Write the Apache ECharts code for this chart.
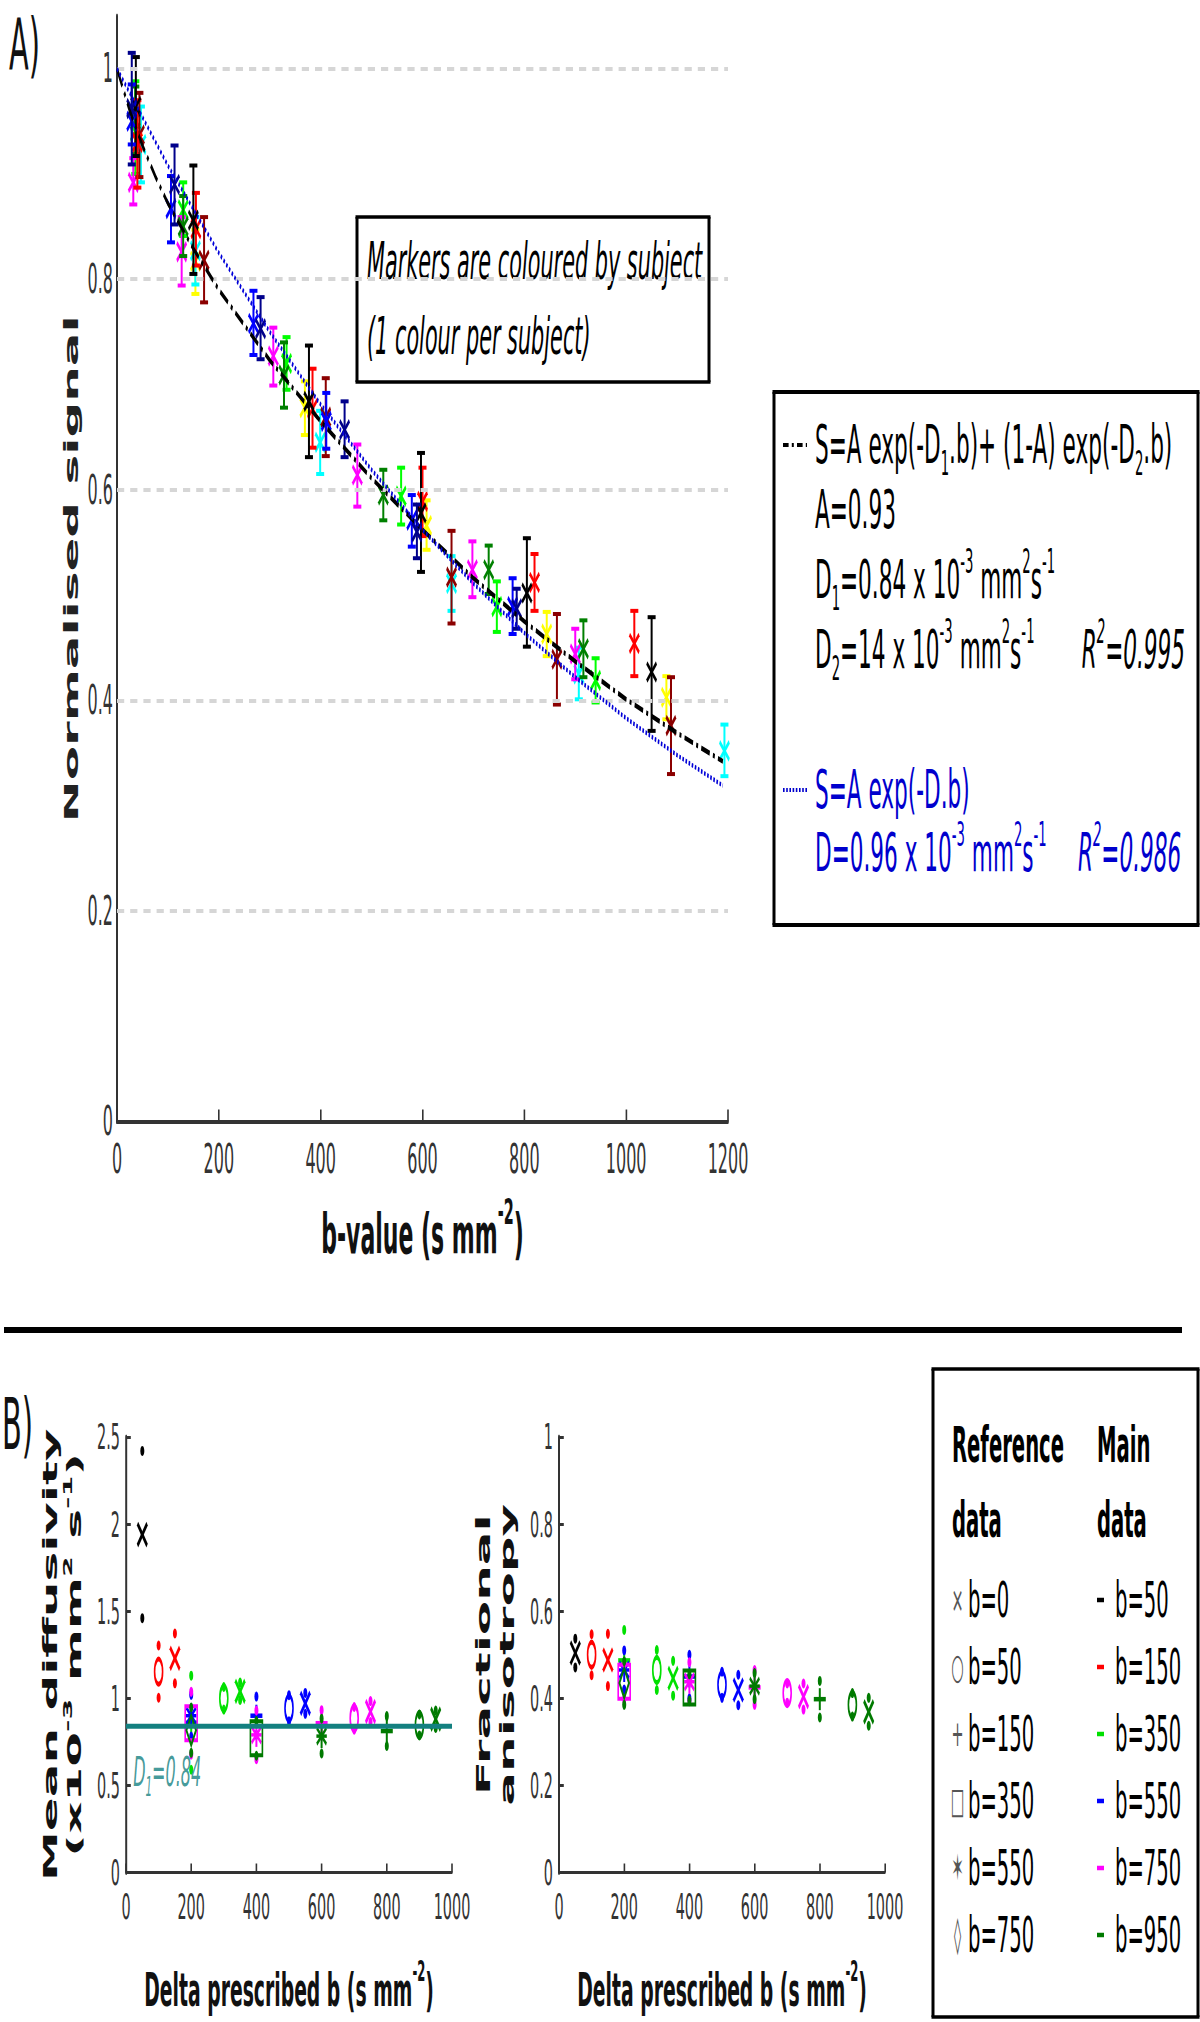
<!DOCTYPE html>
<html>
<head>
<meta charset="utf-8">
<script src="https://cdn.jsdelivr.net/npm/echarts@6/dist/echarts.min.js"></script>
<style>
html,body{margin:0;padding:0;background:#fff;}
#wrap{width:1200px;height:2022px;overflow:hidden;position:relative;background:#fff;}
#chart{width:3000px;height:2022px;transform:scaleX(0.4);transform-origin:0 0;}
</style>
</head>
<body>
<div id="wrap"><div id="chart"></div></div>
<script>
// ================= DATA =================
// Panel A tick values
const xTicksA = [0, 200, 400, 600, 800, 1000, 1200];
const yTicksA = [0, 0.2, 0.4, 0.6, 0.8, 1];
const gridLinesA = [0.2, 0.4, 0.6, 0.8, 1];

// Panel A: one array per subject. Row = [b-value, mean normalised signal, lower end, upper end]
const subjNavy    = [[29,0.962,0.909,1.015],[113,0.890,0.852,0.927],[282,0.753,0.724,0.783],[447,0.657,0.631,0.684],[589,0.560,0.535,0.586],[785,0.487,0.468,0.506]];
const subjBlue    = [[29,0.950,0.928,0.985],[106,0.867,0.835,0.898],[268,0.758,0.728,0.789],[411,0.665,0.639,0.692],[579,0.571,0.546,0.595],[777,0.489,0.463,0.516]];
const subjBlack   = [[37,0.964,0.917,1.011],[150,0.856,0.805,0.908],[377,0.684,0.631,0.737],[597,0.578,0.522,0.635],[805,0.502,0.451,0.554],[1050,0.427,0.371,0.479]];
const subjRed     = [[40,0.930,0.887,0.970],[155,0.848,0.813,0.882],[384,0.677,0.640,0.715],[600,0.589,0.556,0.621],[820,0.512,0.485,0.539],[1016,0.454,0.423,0.485]];
const subjDarkRed = [[44,0.937,0.897,0.977],[171,0.818,0.778,0.859],[410,0.669,0.632,0.706],[657,0.517,0.473,0.561],[864,0.439,0.396,0.482],[1088,0.376,0.330,0.422]];
const subjGreen   = [[36,0.951,0.919,0.983],[130,0.850,0.822,0.879],[328,0.709,0.678,0.740],[523,0.595,0.571,0.619],[730,0.524,0.501,0.547],[916,0.449,0.422,0.476]];
const subjLime    = [[36,0.940,0.900,0.988],[130,0.866,0.841,0.892],[333,0.720,0.695,0.745],[558,0.594,0.567,0.621],[746,0.489,0.465,0.513],[940,0.419,0.398,0.440]];
const subjMagenta = [[32,0.892,0.871,0.915],[127,0.826,0.794,0.859],[307,0.727,0.699,0.754],[472,0.614,0.584,0.643],[698,0.524,0.498,0.551],[900,0.444,0.420,0.468]];
const subjCyan    = [[47,0.928,0.892,0.964],[154,0.827,0.795,0.859],[399,0.645,0.615,0.675],[657,0.511,0.485,0.537],[907,0.425,0.401,0.450],[1193,0.352,0.328,0.377]];
const subjYellow  = [[40,0.930,0.900,0.960],[154,0.817,0.786,0.847],[369,0.678,0.652,0.703],[608,0.566,0.543,0.590],[844,0.463,0.442,0.484],[1079,0.403,0.382,0.423]];

// Panel A fitted curves
const fitBiB   = [0, 25, 50, 75, 100, 150, 200, 300, 400, 500, 600, 700, 800, 900, 1000, 1100, 1190];
const fitBiS   = [1.000, 0.960, 0.927, 0.898, 0.872, 0.829, 0.790, 0.723, 0.665, 0.611, 0.562, 0.516, 0.475, 0.437, 0.401, 0.369, 0.342];
const fitMonoB = [0, 100, 200, 300, 400, 500, 600, 700, 800, 900, 1000, 1100, 1190];
const fitMonoS = [1.000, 0.908, 0.825, 0.750, 0.681, 0.619, 0.562, 0.511, 0.464, 0.422, 0.383, 0.348, 0.319];

// Panel B tick values
const xTicksB = [0, 200, 400, 600, 800, 1000];
const yTicksMD = [0, 0.5, 1, 1.5, 2, 2.5];
const yTicksFA = [0, 0.2, 0.4, 0.6, 0.8, 1];
const d1Value = 0.84;

// Panel B: main-data b-values; rows = [delta prescribed b, mean, sd]
const mainBValues = [50, 150, 350, 550, 750, 950];
const mdB50  = [[50,1.94,0.48]];
const mdB150 = [[100,1.153,0.15],[150,1.229,0.143]];
const mdB350 = [[200,0.86,0.27],[300,1.00,0.065],[350,1.04,0.05]];
const mdB550 = [[200,0.90,0.12],[400,0.90,0.11],[500,0.943,0.075],[550,0.971,0.06]];
const mdB750 = [[200,0.857,0.18],[400,0.79,0.14],[600,0.857,0.075],[700,0.885,0.065],[750,0.924,0.06]];
const mdB950 = [[200,0.817,0.13],[400,0.77,0.10],[600,0.783,0.10],[800,0.812,0.086],[900,0.847,0.06],[950,0.88,0.05]];

const faB50  = [[50,0.504,0.033]];
const faB150 = [[100,0.500,0.047],[150,0.488,0.06]];
const faB350 = [[200,0.487,0.07],[300,0.465,0.046],[350,0.446,0.04]];
const faB550 = [[200,0.465,0.045],[400,0.450,0.05],[500,0.431,0.03],[550,0.419,0.035]];
const faB750 = [[200,0.438,0.04],[400,0.438,0.045],[600,0.425,0.04],[700,0.412,0.022],[750,0.404,0.03]];
const faB950 = [[200,0.435,0.05],[400,0.425,0.03],[600,0.428,0.03],[800,0.398,0.042],[900,0.385,0.027],[950,0.369,0.032]];

// ================= STYLE / LAYOUT =================
const S = 0.4;                 // horizontal squeeze of the figure
const X = v => v / S;          // reference-pixel x -> canvas x
const F = "'DejaVu Sans', 'Noto Sans', sans-serif";
const AX = '#333';

const subjectsA = [
  [subjYellow,'#FFFF00'],[subjCyan,'#00FFFF'],[subjLime,'#00FF00'],[subjMagenta,'#FF00FF'],
  [subjGreen,'#008000'],[subjDarkRed,'#8B0000'],[subjRed,'#FF0000'],[subjBlack,'#000000'],
  [subjBlue,'#0000FF'],[subjNavy,'#00008B']
];
const groupsMD = [[mdB50,'#000000'],[mdB150,'#FF0000'],[mdB350,'#00E000'],[mdB550,'#0000FF'],[mdB750,'#FF00FF'],[mdB950,'#007A00']];
const groupsFA = [[faB50,'#000000'],[faB150,'#FF0000'],[faB350,'#00E000'],[faB550,'#0000FF'],[faB750,'#FF00FF'],[faB950,'#007A00']];
const refShape = {0:'x', 50:'o', 150:'+', 350:'star', 550:'square', 750:'diamond'};

function errRendererA(color){
  return function(params, api){
    const b = api.value(0), m = api.value(1), lo = api.value(2), hi = api.value(3);
    const c = api.coord([b, m]), t = api.coord([b, hi]), l = api.coord([b, lo]);
    const cw = 10, mw = 12, mh = 9;
    return {type:'group', children:[
      {type:'line', shape:{x1:c[0], y1:t[1], x2:c[0], y2:l[1]}, style:{stroke:color, lineWidth:5}},
      {type:'line', shape:{x1:c[0]-cw, y1:t[1], x2:c[0]+cw, y2:t[1]}, style:{stroke:color, lineWidth:4}},
      {type:'line', shape:{x1:c[0]-cw, y1:l[1], x2:c[0]+cw, y2:l[1]}, style:{stroke:color, lineWidth:4}},
      {type:'line', shape:{x1:c[0]-mw, y1:c[1]-mh, x2:c[0]+mw, y2:c[1]+mh}, style:{stroke:color, lineWidth:4.5}},
      {type:'line', shape:{x1:c[0]-mw, y1:c[1]+mh, x2:c[0]+mw, y2:c[1]-mh}, style:{stroke:color, lineWidth:4.5}}
    ]};
  };
}

function markerB(shape, c, color){
  const st = {stroke:color, lineWidth:5, fill:'none'};
  const L = (x1,y1,x2,y2,w) => ({type:'line', shape:{x1:c[0]+x1, y1:c[1]+y1, x2:c[0]+x2, y2:c[1]+y2}, style:{stroke:color, lineWidth:w||5}});
  switch(shape){
    case 'x': return [L(-12,-11,12,11), L(-12,11,12,-11)];
    case 'o': return [{type:'circle', x:c[0], y:c[1], scaleX:0.8, shape:{cx:0, cy:0, r:12.5}, style:st}];
    case '+': return [L(-15,0,15,0,4.5), L(0,-11,0,11)];
    case 'square': return [{type:'rect', shape:{x:c[0]-15, y:c[1]-17, width:30, height:34}, style:{stroke:color, lineWidth:4, fill:'none'}}];
    case 'star': return [L(0,-12,0,12), L(-12,-8,12,8,4), L(-12,8,12,-8,4), L(-13,0,13,0,3.5)];
    case 'diamond': return [{type:'polygon', shape:{points:[[c[0],c[1]-15],[c[0]+12,c[1]],[c[0],c[1]+15],[c[0]-12,c[1]]]}, style:{stroke:color, lineWidth:4, fill:'none'}}];
  }
  return [];
}

function rendererB(color, mainB){
  return function(params, api){
    const d = api.value(0), m = api.value(1), sd = api.value(2);
    const c = api.coord([d, m]), t = api.coord([d, m + sd]), l = api.coord([d, m - sd]);
    const ch = [
      {type:'circle', shape:{cx:t[0], cy:t[1], r:5}, style:{fill:color}},
      {type:'circle', shape:{cx:l[0], cy:l[1], r:5}, style:{fill:color}}
    ].concat(markerB(refShape[mainB - d], c, color));
    return {type:'group', children:ch};
  };
}

// ---- graphic helpers ----
function box(x1, y1, x2, y2, hw, vw){
  const s = (w) => ({stroke:'#000', lineWidth:w});
  return [
    {type:'line', silent:true, shape:{x1:x1-vw/2, y1:y1, x2:x2+vw/2, y2:y1}, style:s(hw)},
    {type:'line', silent:true, shape:{x1:x1-vw/2, y1:y2, x2:x2+vw/2, y2:y2}, style:s(hw)},
    {type:'line', silent:true, shape:{x1:x1, y1:y1, x2:x1, y2:y2}, style:s(vw)},
    {type:'line', silent:true, shape:{x1:x2, y1:y1, x2:x2, y2:y2}, style:s(vw)}
  ];
}
function richSet(color, size, gap){
  const sm = Math.round(size * 0.62);
  return {
    n:{fontSize:size, fontFamily:F, fill:color, lineHeight:70},
    sb:{fontSize:sm, fontFamily:F, fill:color, lineHeight:46, verticalAlign:'bottom'},
    sp:{fontSize:sm, fontFamily:F, fill:color, lineHeight:30, verticalAlign:'top'},
    i:{fontSize:size, fontFamily:F, fontStyle:'italic', fill:color, lineHeight:70},
    si:{fontSize:sm, fontFamily:F, fontStyle:'italic', fill:color, lineHeight:30, verticalAlign:'top'},
    g:{fontSize:size, fontFamily:F, fill:color, lineHeight:70, width:gap}
  };
}
function gtext(x, y, text, opts){
  const o = opts || {};
  return {type:'text', silent:true, x:x, y:y, style:Object.assign({
    text:text, fontFamily:F, fontSize:o.fontSize||40, fill:o.fill||'#000',
    align:o.align||'left', textAlign:o.align||'left', verticalAlign:'middle', textVerticalAlign:'middle'
  }, o.style||{})};
}

const blk = '#000', blu = '#0000CD';
const richK = richSet(blk, 54, 118), richB = richSet(blu, 54, 78);
const legRows = [1600, 1667, 1734, 1801, 1868, 1935];
const refLabels = ['b=0','b=50','b=150','b=350','b=550','b=750'];
const refSymbols = ['\u00D7','\u25CB','+','\u25A1','\u2736','\u25CA'];
const mainColors = ['#000000','#FF0000','#00E000','#0000FF','#FF00FF','#007A00'];

const graphics = [].concat(
  [gtext(X(9), 44, 'A)', {fontSize:72, fill:'#111'})],
  [gtext(X(2), 1424, 'B)', {fontSize:72, fill:'#111'})],
  // markers note box
  box(X(357), 217, X(709), 382, 3.5, 7.5),
  [gtext(X(367), 261, 'Markers are coloured by subject', {fontSize:52, style:{fontStyle:'italic'}}),
   gtext(X(367), 336, '(1 colour per subject)', {fontSize:52, style:{fontStyle:'italic'}})],
  // fit legend box
  box(X(774), 392, X(1198), 925, 4, 7.5),
  [
    {type:'line', silent:true, shape:{x1:X(783), y1:445, x2:X(807), y2:445}, style:{stroke:'#000', lineWidth:4, lineDash:[14,8,5,8]}},
    gtext(X(815), 445, '{n|S=A exp(-D}{sb|1}{n|.b)+ (1-A) exp(-D}{sb|2}{n|.b)}', {style:{rich:richK}}),
    gtext(X(815), 510, '{n|A=0.93}', {style:{rich:richK}}),
    gtext(X(815), 580, '{n|D}{sb|1}{n|=0.84 x 10}{sp|-3}{n| mm}{sp|2}{n|s}{sp|-1}', {style:{rich:richK}}),
    gtext(X(815), 650, '{n|D}{sb|2}{n|=14 x 10}{sp|-3}{n| mm}{sp|2}{n|s}{sp|-1}{g| }{i|R}{si|2}{i|=0.995}', {style:{rich:richK}}),
    {type:'line', silent:true, shape:{x1:X(783), y1:790, x2:X(808), y2:790}, style:{stroke:blu, lineWidth:4, lineDash:[4,4]}},
    gtext(X(815), 790, '{n|S=A exp(-D.b)}', {style:{rich:richB}}),
    gtext(X(815), 853, '{n|D=0.96 x 10}{sp|-3}{n| mm}{sp|2}{n|s}{sp|-1}{g| }{i|R}{si|2}{i|=0.986}', {style:{rich:richB}})
  ],
  // separator
  [{type:'line', silent:true, shape:{x1:X(4), y1:1330, x2:X(1182), y2:1330}, style:{stroke:'#000', lineWidth:6}}],
  // panel B legend
  box(X(933), 1369, X(1198), 2017, 3.5, 7.5),
  [
    gtext(X(952), 1445, 'Reference', {fontSize:49, style:{fontWeight:'bold'}}),
    gtext(X(952), 1520, 'data', {fontSize:49, style:{fontWeight:'bold'}}),
    gtext(X(1097), 1445, 'Main', {fontSize:49, style:{fontWeight:'bold'}}),
    gtext(X(1097), 1520, 'data', {fontSize:49, style:{fontWeight:'bold'}})
  ],
  legRows.map((y, i) => gtext(X(957.5), y, refSymbols[i], {fontSize:36, fill:'#555', align:'center'})),
  legRows.map((y, i) => gtext(X(968), y, refLabels[i], {fontSize:49})),
  legRows.map((y, i) => ({type:'line', silent:true, shape:{x1:X(1097), y1:y, x2:X(1104), y2:y}, style:{stroke:mainColors[i], lineWidth:4.5}})),
  legRows.map((y, i) => gtext(X(1115), y, 'b=' + mainBValues[i], {fontSize:49}))
);

// ---- axes ----
function valueAxis(extra){
  return Object.assign({type:'value', splitLine:{show:false}, axisLine:{show:true, onZero:false}}, extra);
}
const plain = v => String(Math.round(v * 10) / 10);
const richTitle = (size, sup, lh) => ({
  t:{fontSize:size, fontWeight:'bold', fontFamily:F, color:'#111', lineHeight:lh},
  n:{fontSize:size, fontWeight:'bold', fontFamily:F, color:'#111', lineHeight:lh},
  s:{fontSize:sup, fontWeight:'bold', fontFamily:F, color:'#111', lineHeight:sup, verticalAlign:'top'}
});

const xAxes = [
  valueAxis({gridIndex:0, min:0, max:1200, interval:200,
    axisLine:{show:true, onZero:false, lineStyle:{color:AX, width:4}},
    axisTick:{show:true, inside:true, length:12, lineStyle:{color:AX, width:4}},
    axisLabel:{fontSize:40, fontFamily:F, color:AX, margin:18, formatter:plain},
    name:'{n|b-value (s mm}{s|-2}{n|)}', nameLocation:'middle', nameGap:72,
    nameTextStyle:{rich:richTitle(55, 36, 80)}}),
  valueAxis({gridIndex:1, min:0, max:1000, interval:200,
    axisLine:{show:true, onZero:false, lineStyle:{color:AX, width:3}},
    axisTick:{show:true, inside:true, length:9, lineStyle:{color:AX, width:4}},
    axisLabel:{fontSize:36, fontFamily:F, color:AX, margin:16, formatter:plain},
    name:'{n|Delta prescribed b (s mm}{s|-2}{n|)}', nameLocation:'middle', nameGap:84,
    nameTextStyle:{rich:richTitle(47, 29, 66)}}),
  valueAxis({gridIndex:2, min:0, max:1000, interval:200,
    axisLine:{show:true, onZero:false, lineStyle:{color:AX, width:3}},
    axisTick:{show:true, inside:true, length:9, lineStyle:{color:AX, width:4}},
    axisLabel:{fontSize:36, fontFamily:F, color:AX, margin:16, formatter:plain},
    name:'{n|Delta prescribed b (s mm}{s|-2}{n|)}', nameLocation:'middle', nameGap:84,
    nameTextStyle:{rich:richTitle(47, 29, 66)}})
];
const yAxes = [
  valueAxis({gridIndex:0, min:0, max:1.05, interval:0.2,
    axisLine:{show:true, onZero:false, lineStyle:{color:AX, width:5}},
    axisTick:{show:true, inside:true, length:15, lineStyle:{color:AX, width:3}, customValues:yTicksA},
    axisLabel:{fontSize:40, fontFamily:F, color:AX, margin:10, customValues:yTicksA,
      formatter: v => (v > 1.01 ? '' : plain(v))},
    name:'Normalised signal', nameLocation:'middle', nameRotate:90, nameGap:78,
    nameTextStyle:{fontSize:50, fontWeight:'bold', fontFamily:F, color:'#222', lineHeight:60}}),
  valueAxis({gridIndex:1, min:0, max:2.5, interval:0.5,
    axisLine:{show:true, onZero:false, lineStyle:{color:AX, width:5}},
    axisTick:{show:true, inside:true, length:12, lineStyle:{color:AX, width:3}},
    axisLabel:{fontSize:36, fontFamily:F, color:AX, margin:15, formatter:plain},
    name:'{t|Mean diffusivity}\n{t|(x10}{s|-3}{t| mm}{s|2}{t| s}{s|-1}{t|)}', nameLocation:'middle', nameRotate:90, nameGap:100,
    nameTextStyle:{rich:richTitle(50, 30, 60)}}),
  valueAxis({gridIndex:2, min:0, max:1, interval:0.2,
    axisLine:{show:true, onZero:false, lineStyle:{color:AX, width:5}},
    axisTick:{show:true, inside:true, length:12, lineStyle:{color:AX, width:3}},
    axisLabel:{fontSize:36, fontFamily:F, color:AX, margin:15, formatter:plain},
    name:'{t|Fractional}\n{t|anisotropy}', nameLocation:'middle', nameRotate:90, nameGap:100,
    nameTextStyle:{rich:richTitle(50, 30, 60)}})
];

// ---- series ----
const series = [];
series.push({type:'line', xAxisIndex:0, yAxisIndex:0, data:[[-100,-100]], symbol:'none', silent:true, z:1,
  lineStyle:{opacity:0},
  markLine:{silent:true, animation:false, symbol:['none','none'], label:{show:false},
    lineStyle:{color:'#d6d6d6', width:4, type:[18,15]},
    emphasis:{disabled:true},
    data:gridLinesA.map(v => ({yAxis:v}))}});
subjectsA.forEach(([arr, col]) => {
  series.push({type:'custom', xAxisIndex:0, yAxisIndex:0, data:arr, z:3, silent:true,
    renderItem:errRendererA(col)});
});
series.push({type:'line', xAxisIndex:0, yAxisIndex:0, z:5, silent:true, symbol:'none',
  data:fitBiB.map((b, i) => [b, fitBiS[i]]),
  lineStyle:{color:'#000', width:5, type:[22,8,5,8]}});
series.push({type:'line', xAxisIndex:0, yAxisIndex:0, z:5, silent:true, symbol:'none',
  data:fitMonoB.map((b, i) => [b, fitMonoS[i]]),
  lineStyle:{color:'#0000D8', width:4.5, type:[4,4]}});

// panel B
groupsMD.forEach(([arr, col], i) => {
  series.push({type:'custom', xAxisIndex:1, yAxisIndex:1, data:arr, z:3, silent:true,
    renderItem:rendererB(col, mainBValues[i])});
});
series.push({type:'line', xAxisIndex:1, yAxisIndex:1, z:6, silent:true, symbol:'none',
  data:[[0, d1Value], [1000, d1Value]], lineStyle:{color:'#138080', width:5, type:'solid'}});
series.push({type:'scatter', xAxisIndex:1, yAxisIndex:1, z:6, silent:true, symbolSize:0,
  data:[[22, 0.575]],
  label:{show:true, position:'right', distance:0,
    formatter:'{i|D}{s|1}{i|=' + d1Value + '}',
    rich:{i:{fontSize:40, fontStyle:'italic', fontFamily:F, color:'#138080', lineHeight:56},
          s:{fontSize:26, fontStyle:'italic', fontFamily:F, color:'#138080', lineHeight:40, verticalAlign:'bottom'}}}});
groupsFA.forEach(([arr, col], i) => {
  series.push({type:'custom', xAxisIndex:2, yAxisIndex:2, data:arr, z:3, silent:true,
    renderItem:rendererB(col, mainBValues[i])});
});

const option = {
  animation:false,
  backgroundColor:'#ffffff',
  grid:[
    {left:X(117), top:16, width:X(611), height:1105.5},
    {left:X(126), top:1437, width:X(326), height:435.5},
    {left:X(559), top:1437, width:X(326), height:435.5}
  ],
  xAxis:xAxes,
  yAxis:yAxes,
  graphic:{elements:graphics},
  series:series
};

const chart = echarts.init(document.getElementById('chart'), null, {renderer:'svg'});
chart.setOption(option);
</script>
</body>
</html>
